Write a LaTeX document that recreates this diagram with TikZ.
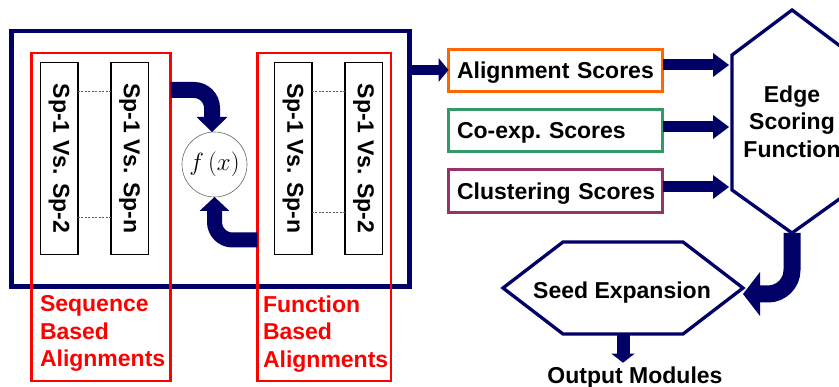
\documentclass[tikz,border=0pt]{standalone}
\usepackage{fontspec}
\usepackage{graphicx}
\setmainfont{Liberation Sans}
\usetikzlibrary{arrows.meta}

\definecolor{navy}{HTML}{000066}
\definecolor{seqred}{HTML}{FF0000}
\definecolor{alignorange}{HTML}{FF6600}
\definecolor{coexpgreen}{HTML}{339966}
\definecolor{clusterplum}{HTML}{993366}

\begin{document}
\begin{tikzpicture}[x=1pt,y=-1pt,
  every node/.style={inner sep=0pt, outer sep=0pt},
  lbl/.style={font=\fontsize{23}{27.5}\selectfont\bfseries},
  pair/.style={lbl, draw=black, line width=1.5pt, minimum width=37.5pt, minimum height=192pt},
  group/.style={draw=seqred, line width=2.5pt, minimum height=328pt},
  score/.style={lbl, line width=3.3pt, minimum width=214pt, minimum height=42pt,
    text width=197pt, align=left, inner xsep=8.5pt, text height=16.5pt, text depth=0pt},
  link/.style={draw=gray!70!black, line width=0.6pt, dash pattern=on 2pt off 1.5pt},
  fat/.style={draw=navy, line width=#1, line cap=butt},
  hexline/.style={draw=navy, line width=3.3pt, line join=miter},
]
\useasboundingbox (0,0) rectangle (839,387);

% outer frame around the alignment stage
\node[draw=navy, line width=4.5pt, minimum width=398pt, minimum height=255.5pt] (frame) at (210.5,158.75) {};

% pairwise alignment boxes
\node[pair] (s12) at (59,158.5) {\rotatebox{-90}{Sp-1 Vs. Sp-2}};
\node[pair] (s1n) at (129.5,158.5) {\rotatebox{-90}{Sp-1 Vs. Sp-n}};
\node[pair] (f1n) at (293,158.5) {\rotatebox{-90}{Sp-1 Vs. Sp-n}};
\node[pair] (f12) at (363.5,158.5) {\rotatebox{-90}{Sp-1 Vs. Sp-2}};

\draw[link] (s12.east |- 0,91) -- (s1n.west |- 0,91);
\draw[link] (s12.east |- 0,217) -- (s1n.west |- 0,217);
\draw[link] (f1n.east |- 0,91) -- (f12.west |- 0,91);
\draw[link] (f1n.east |- 0,212) -- (f12.west |- 0,212);

% combining function
\node[circle, draw=gray!80!black, line width=0.6pt, minimum size=65pt,
  font=\fontsize{24.88}{30}\selectfont] (fx) at (214.5,164.5) {$f\,(x)$};

% grouping boxes and their captions
\node[group, minimum width=139pt] (seqgrp) at (101,217) {};
\node[group, minimum width=133.5pt] (fungrp) at (324,217) {};

\draw[fat=16pt, rounded corners=18pt, -{Triangle[length=15pt,width=31pt,line width=0pt]}]
  (seqgrp.east |- 0,90) -| ([xshift=-2.5pt]fx.north);
\draw[fat=15pt, rounded corners=18pt, -{Triangle[length=14pt,width=30pt,line width=0pt]}]
  (fungrp.west |- 0,240) -| (fx.south);

\node[lbl, text=seqred, align=left, anchor=north west] (seqlbl) at (40,295.5) {Sequence\\Based\\Alignments};
\node[lbl, text=seqred, align=left, anchor=north west] (funlbl) at (263,295.5) {Function\\Based\\Alignments};

% score inputs
\node[score, draw=alignorange] (align) at (555.5,70.5) {\mbox{Alignment Scores}};
\node[score, draw=coexpgreen] (coexp) at (555.5,130.5) {\mbox{Co-exp.\ Scores}};
\node[score, draw=clusterplum, minimum height=43pt] (clust) at (555.5,191) {\mbox{Clustering Scores}};

\draw[fat=10pt, -{Triangle[length=10pt,width=24pt,line width=0pt]}]
  (frame.east |- 0,70) -- (align.west |- 0,70);

% edge scoring hexagon
\coordinate (esf-n) at (792,10);
\coordinate (esf-nw) at (732,55);
\coordinate (esf-sw) at (732,190);
\coordinate (esf-s) at (792,233);
\coordinate (esf-se) at (852,190);
\coordinate (esf-ne) at (852,55);
\draw[hexline] (esf-n) -- (esf-nw) -- (esf-sw) -- (esf-s) -- (esf-se) -- (esf-ne) -- cycle;
\node[lbl, align=center] (esftxt) at (792,121.5) {Edge\\Scoring\\Function};

\foreach \src/\yy in {align/65, coexp/127, clust/187}
  \draw[fat=11pt, shorten >=3pt, -{Triangle[length=16pt,width=24pt,line width=0pt]}]
    (\src.east |- 0,\yy) -- (esf-nw |- 0,\yy);

% seed expansion hexagon
\coordinate (seed-w) at (503,288);
\coordinate (seed-nw) at (563,242);
\coordinate (seed-ne) at (683,242);
\coordinate (seed-e) at (743,288);
\coordinate (seed-se) at (683,334);
\coordinate (seed-sw) at (563,334);
\draw[hexline] (seed-w) -- (seed-nw) -- (seed-ne) -- (seed-e) -- (seed-se) -- (seed-sw) -- cycle;
\node[lbl, text height=16.5pt, text depth=0pt] (seedtxt) at (622,290) {Seed Expansion};

\draw[fat=17pt, rounded corners=24pt, -{Triangle[length=17pt,width=44pt,line width=0pt]}]
  (esf-s) |- ([yshift=-6pt]seed-e);

% result
\node[lbl, text height=16.5pt, text depth=0pt] (out) at (635,375) {Output Modules};
\draw[fat=13pt, -{Triangle[length=9pt,width=23pt,line width=0pt]}]
  (623,334) -- ([yshift=4pt]out.north -| 623,0);
\end{tikzpicture}
\end{document}
